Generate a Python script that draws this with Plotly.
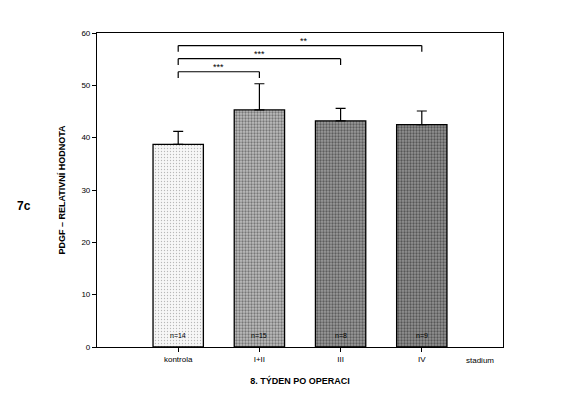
import plotly.graph_objects as go

categories = ["kontrola", "I+II", "III", "IV"]
means = [38.7, 45.3, 43.2, 42.5]
errors = [2.5, 5.0, 2.4, 2.6]
n_labels = ["n=14", "n=15", "n=8", "n=9"]
fill_bg = ["#f7f7f7", "#bdbdbd", "#9a9a9a", "#929292"]
fill_fg = ["#7a7a7a", "#303030", "#202020", "#1a1a1a"]

# significance comparisons: (from index, to index, bracket level, stars)
sig_from = [0, 0, 0]
sig_to = [1, 2, 3]
sig_level = [52.6, 55.1, 57.6]
sig_text = ["***", "***", "**"]

xpos = [i + 1 for i in range(len(categories))]

fig = go.Figure()
for i, c in enumerate(categories):
    fig.add_trace(go.Bar(
        x=[xpos[i]], y=[means[i]], width=0.62,
        marker=dict(color=fill_bg[i], line=dict(color="black", width=1.3),
                    pattern=dict(shape=".", fgcolor=fill_fg[i], bgcolor=fill_bg[i],
                                 size=3, solidity=0.45 if i else 0.15, fillmode="overlay")),
        error_y=dict(type="data", symmetric=False, array=[errors[i]], arrayminus=[0],
                     color="black", thickness=1.2, width=5),
        showlegend=False,
    ))
    fig.add_annotation(x=xpos[i], y=2.2, text=n_labels[i], showarrow=False,
                       font=dict(size=7, color="black"), xref="x", yref="y")

for f, t, lvl, s in zip(sig_from, sig_to, sig_level, sig_text):
    x0, x1 = xpos[f], xpos[t]
    fig.add_shape(type="line", x0=x0, x1=x1, y0=lvl, y1=lvl, xref="x", yref="y",
                  line=dict(color="black", width=1.2))
    fig.add_shape(type="line", x0=x0, x1=x0, y0=lvl, y1=lvl - 1.2, xref="x", yref="y",
                  line=dict(color="black", width=1.2))
    fig.add_shape(type="line", x0=x1, x1=x1, y0=lvl, y1=lvl - 1.2, xref="x", yref="y",
                  line=dict(color="black", width=1.2))
    fig.add_annotation(x=(x0 + x1) / 2 if t < 3 else 2.55, y=lvl, text=s, showarrow=False,
                       yshift=5, font=dict(size=9, color="black"))

fig.add_annotation(x=4.72, y=0, text="stadium", showarrow=False, yshift=-13,
                   font=dict(size=8, color="black"))
fig.add_annotation(xref="paper", yref="paper", x=-0.18, y=0.45, text="<b>7c</b>",
                   showarrow=False, font=dict(size=12, color="black"), xanchor="center")

fig.update_layout(
    width=581, height=410,
    margin=dict(l=97, r=78, t=33, b=63),
    paper_bgcolor="white", plot_bgcolor="white",
    font=dict(family="Liberation Sans, Arial, sans-serif", color="black"),
    bargap=0.3,
    xaxis=dict(range=[0, 5], tickvals=xpos, ticktext=categories, ticks="outside",
               ticklen=4, tickcolor="black", showline=True, linecolor="black", linewidth=1.2,
               mirror=True, showgrid=False, zeroline=False, tickfont=dict(size=8),
               title=dict(text="<b>8. TÝDEN PO OPERACI</b>", font=dict(size=9), standoff=14)),
    yaxis=dict(range=[0, 60], dtick=10, ticks="outside", ticklen=4, tickcolor="black",
               showline=True, linecolor="black", linewidth=1.2, mirror=True,
               showgrid=False, zeroline=False, tickfont=dict(size=8),
               title=dict(text="<b>PDGF – RELATIVNÍ HODNOTA</b>", font=dict(size=9), standoff=14)),
)

fig.write_html("out.html")
